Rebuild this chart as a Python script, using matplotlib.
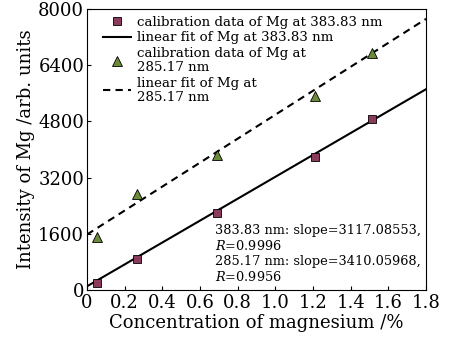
import matplotlib
matplotlib.use("Agg")
import matplotlib.pyplot as plt
import numpy as np

# calibration data
conc_383 = [0.055, 0.265, 0.69, 1.209, 1.512]
inten_383 = [210, 875, 2200, 3790, 4865]
conc_285 = [0.055, 0.265, 0.69, 1.209, 1.512]
inten_285 = [1500, 2725, 3840, 5535, 6745]

# linear fits (slope from the annotation, intercept)
slope_383, icpt_383 = 3117.08553, 105
slope_285, icpt_285 = 3410.05968, 1580

x_ticks = [0, 0.2, 0.4, 0.6, 0.8, 1.0, 1.2, 1.4, 1.6, 1.8]
x_labels = ["0", "0.2", "0.4", "0.6", "0.8", "1.0", "1.2", "1.4", "1.6", "1.8"]
y_ticks = [0, 1600, 3200, 4800, 6400, 8000]

plt.rcParams["font.family"] = "DejaVu Serif"
plt.rcParams["mathtext.fontset"] = "dejavuserif"

fig = plt.figure(figsize=(4.56, 3.44), dpi=100)
ax = fig.add_axes([87 / 456, 1 - 290 / 344, 339 / 456, 281 / 344])

xfit = np.array([0, 1.8])
ax.plot(conc_383, inten_383, "s", color="#8a3a5a", mec="black", mew=0.6, ms=5.5,
        label="calibration data of Mg at 383.83 nm", zorder=3)
ax.plot(xfit, slope_383 * xfit + icpt_383, "-", color="black", lw=1.5,
        label="linear fit of Mg at 383.83 nm")
ax.plot(conc_285, inten_285, "^", color="#6b8a3a", mec="black", mew=0.6, ms=7.5,
        label="calibration data of Mg at\n285.17 nm", zorder=3)
ax.plot(xfit, slope_285 * xfit + icpt_285, "--", color="black", lw=1.5,
        dashes=(3.5, 2.5), label="linear fit of Mg at\n285.17 nm")

ax.set_xlim(0, 1.8)
ax.set_ylim(0, 8000)
ax.set_xticks(x_ticks)
ax.set_xticklabels(x_labels)
ax.set_yticks(y_ticks)
ax.tick_params(direction="in", labelsize=13, length=3, pad=2)
ax.tick_params(axis="x", pad=3)
ax.set_xlabel("Concentration of magnesium /%", fontsize=13, labelpad=1)
ax.set_ylabel("Intensity of Mg /arb. units", fontsize=13, labelpad=2)

leg = ax.legend(loc="upper left", frameon=False, fontsize=9.6, handlelength=2.1,
                handletextpad=0.4, labelspacing=0.2, borderaxespad=0.2,
                bbox_to_anchor=(0.025, 1.005))
for t in leg.get_texts():
    t.set_linespacing(1.1)

ax.text(0.378, 0.235,
        "383.83 nm: slope=3117.08553,\n$R$=0.9996\n285.17 nm: slope=3410.05968,\n$R$=0.9956",
        transform=ax.transAxes, fontsize=9.3, va="top", ha="left", linespacing=1.18)

fig.savefig("out.png", dpi=100)
